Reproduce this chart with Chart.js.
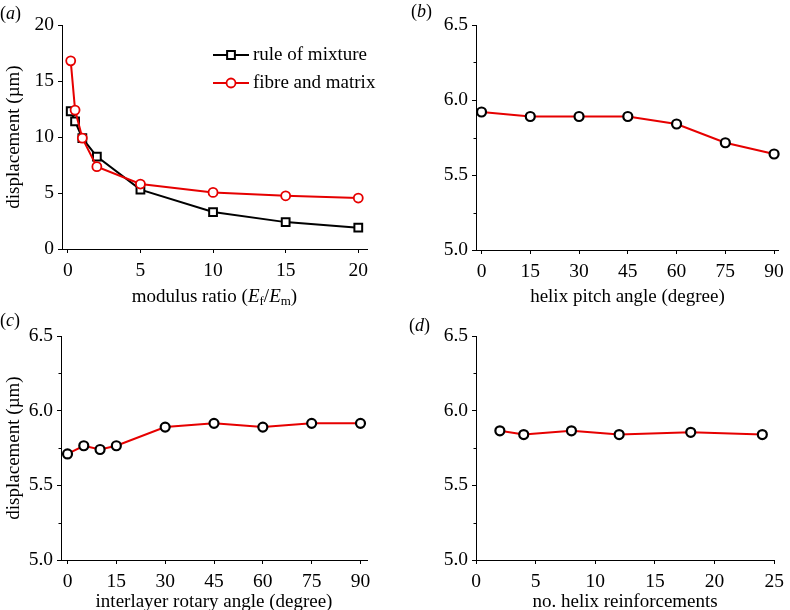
<!DOCTYPE html>
<html>
<head>
<meta charset="utf-8">
<script src="https://cdn.jsdelivr.net/npm/chart.js@4.4.1/dist/chart.umd.min.js"></script>
<style>
  html, body { margin: 0; padding: 0; background: #fff; }
  #wrap { position: relative; width: 790px; height: 610px; overflow: hidden; }
  canvas { position: absolute; }
  .lab { position: absolute; font: 18px "Liberation Serif", serif; line-height: 18px; color: #000; }
</style>
</head>
<body>
<div id="wrap">
  <canvas id="ca" width="395" height="312" style="left:0;top:0"></canvas>
  <canvas id="cb" width="395" height="312" style="left:395px;top:0"></canvas>
  <canvas id="cc" width="395" height="310" style="left:0;top:300px"></canvas>
  <canvas id="cd" width="395" height="310" style="left:395px;top:300px"></canvas>
  <div class="lab" style="left:0;top:4px">(<i>a</i>)</div>
  <div class="lab" style="left:411px;top:2px">(<i>b</i>)</div>
  <div class="lab" style="left:0;top:311px">(<i>c</i>)</div>
  <div class="lab" style="left:409px;top:316px">(<i>d</i>)</div>
</div>
<script>
// (a) modulus ratio
const modRatio = [0.2, 0.5, 1, 2, 5, 10, 15, 20];
const ruleOfMixture = [12.3, 11.4, 9.9, 8.25, 5.3, 3.3, 2.4, 1.9];
const fibreMatrix = [16.8, 12.4, 9.9, 7.35, 5.8, 5.05, 4.75, 4.55];

// (b) helix pitch angle
const pitchAngle = [0, 15, 30, 45, 60, 75, 90];
const pitchDisp = [5.92, 5.89, 5.89, 5.89, 5.84, 5.715, 5.64];

// (c) interlayer rotary angle
const rotaryAngle = [0, 5, 10, 15, 30, 45, 60, 75, 90];
const rotaryDisp = [5.71, 5.765, 5.74, 5.765, 5.89, 5.915, 5.89, 5.915, 5.915];

// (d) number of helix reinforcements
const helixCount = [2, 4, 8, 12, 18, 24];
const helixDisp = [5.865, 5.84, 5.865, 5.84, 5.855, 5.84];

// tick values
const xTicksA = [0, 5, 10, 15, 20];
const xTicksAngle = [0, 15, 30, 45, 60, 75, 90];
const xTicksD = [0, 5, 10, 15, 20, 25];
const yMinor = [5.25, 5.75, 6.25];

const legendLabels = ['rule of mixture', 'fibre and matrix'];

const RED = '#e60000';
const FONT = '"Liberation Serif", serif';
const tickFont = { family: FONT, size: 19.5 };
const titleFont = { family: FONT, size: 19 };

function pts(xs, ys) { return xs.map((x, i) => ({ x: x, y: ys[i] })); }

// short minor ticks on the y axis
const minorTicks = {
  id: 'minorTicks',
  afterDraw(chart, args, opts) {
    if (!opts.values) return;
    const ctx = chart.ctx, ys = chart.scales.y, left = chart.chartArea.left;
    ctx.save();
    ctx.strokeStyle = '#000';
    ctx.lineWidth = 1;
    opts.values.forEach(v => {
      const y = Math.round(ys.getPixelForValue(v)) + 0.5;
      ctx.beginPath();
      ctx.moveTo(left - 2.5, y);
      ctx.lineTo(left, y);
      ctx.stroke();
    });
    ctx.restore();
  }
};

function makePanel(id, o) {
  return new Chart(document.getElementById(id), {
    type: 'line',
    data: { datasets: o.datasets },
    plugins: [minorTicks].concat(o.plugins || []),
    options: {
      responsive: false,
      animation: false,
      events: [],
      layout: { padding: { left: 0, top: o.padTop, right: o.padRight, bottom: 0 } },
      plugins: {
        legend: { display: false },
        tooltip: { enabled: false },
        minorTicks: { values: o.minor }
      },
      scales: {
        x: {
          type: 'linear',
          min: o.xMin, max: o.xMax,
          afterBuildTicks: s => { s.ticks = o.xTicks.map(v => ({ value: v })); },
          afterFit: s => { s.height = o.xHeight; },
          border: { display: true, color: '#000', width: 1 },
          grid: { drawOnChartArea: false, drawTicks: true, tickLength: 4, color: '#000' },
          ticks: { font: tickFont, color: '#000', padding: 6, maxRotation: 0, autoSkip: false },
          title: {
            display: !!o.xTitle, text: o.xTitle || '', font: titleFont, color: '#000',
            padding: { top: 0, bottom: o.xTitleBottom }
          }
        },
        y: {
          min: o.yMin, max: o.yMax,
          afterBuildTicks: s => { s.ticks = o.yTicks.map(v => ({ value: v })); },
          afterFit: s => { s.width = o.yWidth; },
          border: { display: true, color: '#000', width: 1 },
          grid: { drawOnChartArea: false, drawTicks: true, tickLength: 4, color: '#000' },
          ticks: { font: tickFont, color: '#000', padding: 4, callback: o.yFmt },
          title: {
            display: !!o.yTitle, text: o.yTitle || '', font: titleFont, color: '#000',
            padding: { top: 3, bottom: 0 }
          }
        }
      }
    }
  });
}

function redLine(data) {
  return {
    data: data, borderColor: RED, borderWidth: 2, tension: 0, clip: false,
    pointStyle: 'circle', pointRadius: 4.5, pointBorderWidth: 2.2,
    pointBorderColor: '#000', pointBackgroundColor: '#fff'
  };
}

// legend + rich x title for panel (a)
const panelA = {
  id: 'panelA',
  afterDraw(chart) {
    const ctx = chart.ctx, ca = chart.chartArea;
    ctx.save();
    // legend
    const items = [
      { label: legendLabels[0], color: '#000', style: 'rect', radius: 5.5, bw: 2 },
      { label: legendLabels[1], color: RED, style: 'circle', radius: 4.5, bw: 1.8 }
    ];
    items.forEach((it, i) => {
      const y = 55 + i * 28;
      ctx.strokeStyle = it.color;
      ctx.lineWidth = 2;
      ctx.beginPath(); ctx.moveTo(213, y); ctx.lineTo(249, y); ctx.stroke();
      ctx.fillStyle = '#fff';
      ctx.lineWidth = it.bw;
      Chart.helpers.drawPoint(ctx, { pointStyle: it.style, radius: it.radius, rotation: 0, borderWidth: it.bw }, 231, y);
      ctx.fillStyle = '#000';
      ctx.font = '19px ' + FONT;
      ctx.textBaseline = 'middle';
      ctx.textAlign = 'left';
      ctx.fillText(it.label, 253, y);
    });
    // x title: modulus ratio (E_f/E_m)
    const segs = [
      { t: 'modulus ratio (', f: '19px ' + FONT, dy: 0 },
      { t: 'E', f: 'italic 19px ' + FONT, dy: 0 },
      { t: 'f', f: '13px ' + FONT, dy: 5 },
      { t: '/', f: '19px ' + FONT, dy: 0 },
      { t: 'E', f: 'italic 19px ' + FONT, dy: 0 },
      { t: 'm', f: '13px ' + FONT, dy: 5 },
      { t: ')', f: '19px ' + FONT, dy: 0 }
    ];
    let w = 0;
    segs.forEach(s => { ctx.font = s.f; s.w = ctx.measureText(s.t).width; w += s.w; });
    let x = (ca.left + ca.right) / 2 - w / 2;
    const y0 = 297;
    ctx.textBaseline = 'middle';
    segs.forEach(s => { ctx.font = s.f; ctx.fillText(s.t, x, y0 + s.dy); x += s.w; });
    ctx.restore();
  }
};

makePanel('ca', {
  datasets: [
    {
      data: pts(modRatio, fibreMatrix), order: 0, borderColor: RED, borderWidth: 2, tension: 0, clip: false,
      pointStyle: 'circle', pointRadius: 4.5, pointBorderWidth: 1.8,
      pointBorderColor: RED, pointBackgroundColor: '#fff'
    },
    {
      data: pts(modRatio, ruleOfMixture), order: 1, borderColor: '#000', borderWidth: 2, tension: 0, clip: false,
      pointStyle: 'rect', pointRadius: 5.5, pointBorderWidth: 2,
      pointBorderColor: '#000', pointBackgroundColor: '#fff'
    }
  ],
  plugins: [panelA],
  padTop: 25, padRight: 28, yWidth: 62, xHeight: 63,
  xMin: -0.4, xMax: 20.6, xTicks: xTicksA,
  yMin: 0, yMax: 20, yTicks: [0, 5, 10, 15, 20], yFmt: v => String(v),
  yTitle: 'displacement (\u00b5m)', xTitle: null
});

const fmt1 = v => v.toFixed(1);

makePanel('cb', {
  datasets: [redLine(pts(pitchAngle, pitchDisp))],
  padTop: 25, padRight: 10, yWidth: 81, xHeight: 62,
  xMin: -1.7, xMax: 91.5, xTicks: xTicksAngle,
  yMin: 5, yMax: 6.5, yTicks: [5, 5.5, 6, 6.5], yFmt: fmt1, minor: yMinor,
  xTitle: 'helix pitch angle (degree)', xTitleBottom: 4
});

makePanel('cc', {
  datasets: [redLine(pts(rotaryAngle, rotaryDisp))],
  padTop: 36, padRight: 28, yWidth: 61, xHeight: 50,
  xMin: -2, xMax: 92, xTicks: xTicksAngle,
  yMin: 5, yMax: 6.5, yTicks: [5, 5.5, 6, 6.5], yFmt: fmt1, minor: yMinor,
  yTitle: 'displacement (\u00b5m)',
  xTitle: 'interlayer rotary angle (degree)', xTitleBottom: -3
});

makePanel('cd', {
  datasets: [redLine(pts(helixCount, helixDisp))],
  padTop: 36, padRight: 12, yWidth: 81, xHeight: 50,
  xMin: 0, xMax: 25, xTicks: xTicksD,
  yMin: 5, yMax: 6.5, yTicks: [5, 5.5, 6, 6.5], yFmt: fmt1, minor: yMinor,
  xTitle: 'no. helix reinforcements', xTitleBottom: -3
});
</script>
</body>
</html>
